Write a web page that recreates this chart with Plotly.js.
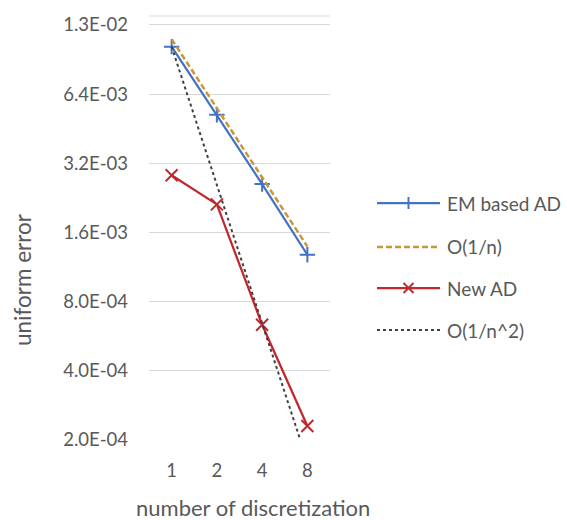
<!DOCTYPE html>
<html>
<head>
<meta charset="utf-8">
<script src="https://cdn.plot.ly/plotly-3.0.1.min.js"></script>
<style>html,body{margin:0;padding:0;background:#fff;}#chart{width:567px;height:520px;}</style>
</head>
<body>
<div id="chart"></div>
<script>
const categories = ['1', '2', '4', '8'];
const emBasedAD = [0.0103, 0.0052, 0.0026, 0.00128];
const orderN = [0.0111, 0.00555, 0.00278, 0.00139];
const newAD = [0.00284, 0.00212, 0.000635, 0.00023];
const orderN2 = [0.0103, 0.00258, 0.000644, 0.000161];
const yTickVals = [0.0002, 0.0004, 0.0008, 0.0016, 0.0032, 0.0064, 0.0128];
const yTickText = ['2.0E-04', '4.0E-04', '8.0E-04', '1.6E-03', '3.2E-03', '6.4E-03', '1.3E-02'];
const seriesNames = ['EM based AD', 'O(1/n)', 'New AD', 'O(1/n^2)'];
const xTitle = 'number of discretization';
const yTitle = 'uniform error';

const FONT = 'Lato, "Open Sans", sans-serif';
const GREY = '#595959';
const colors = ['#4472C4', '#C9973A', '#C0282E', '#404040'];

const traces = [
  {x: categories, y: emBasedAD, name: seriesNames[0], type: 'scatter', mode: 'lines+markers',
   line: {color: colors[0], width: 2.25},
   marker: {symbol: 'cross-thin-open', size: 11, line: {color: colors[0], width: 2}}},
  {x: categories, y: orderN, name: seriesNames[1], type: 'scatter', mode: 'lines',
   line: {color: colors[1], width: 2.5, dash: '6px,3px'}},
  {x: categories, y: newAD, name: seriesNames[2], type: 'scatter', mode: 'lines+markers',
   line: {color: colors[2], width: 2.25},
   marker: {symbol: 'x-thin-open', size: 12, line: {color: colors[2], width: 2}}},
  {x: categories, y: orderN2, name: seriesNames[3], type: 'scatter', mode: 'lines',
   line: {color: colors[3], width: 2, dash: 'dot'}}
];

const plotL = 149, plotR = 330, plotT = 16, plotB = 440;
const px2x = p => (p - plotL) / (plotR - plotL);
const py2y = p => (plotB - p) / (plotB - plotT);
const shapes = [];
const annotations = [];

// manual legend (Excel style, long samples)
const legendRowsPx = [203, 247, 288, 330];
const dashes = ['solid', '6px,3px', 'solid', 'dot'];
const widths = [2.25, 2.5, 2.25, 2];
legendRowsPx.forEach((py, i) => {
  shapes.push({type: 'line', xref: 'paper', yref: 'paper',
    x0: px2x(377), x1: px2x(440), y0: py2y(py), y1: py2y(py),
    line: {color: colors[i], width: widths[i], dash: dashes[i]}});
  annotations.push({xref: 'paper', yref: 'paper', x: px2x(445), y: py2y(py),
    xanchor: 'left', yanchor: 'middle', showarrow: false, text: seriesNames[i],
    font: {family: FONT, size: 19, color: GREY}});
});
const mx = px2x(408.5);
shapes.push({type: 'line', xref: 'paper', yref: 'paper', xsizemode: 'pixel', ysizemode: 'pixel',
  xanchor: mx, yanchor: py2y(203), x0: 0, x1: 0, y0: -6, y1: 6, line: {color: colors[0], width: 2}});
shapes.push({type: 'line', xref: 'paper', yref: 'paper', xsizemode: 'pixel', ysizemode: 'pixel',
  xanchor: mx, yanchor: py2y(288), x0: -5, x1: 5, y0: -5, y1: 5, line: {color: colors[2], width: 2}});
shapes.push({type: 'line', xref: 'paper', yref: 'paper', xsizemode: 'pixel', ysizemode: 'pixel',
  xanchor: mx, yanchor: py2y(288), x0: -5, x1: 5, y0: 5, y1: -5, line: {color: colors[2], width: 2}});
// top plot-area border line
shapes.push({type: 'line', xref: 'paper', yref: 'paper', x0: 0, x1: 1, y0: 1, y1: 1,
  line: {color: '#D9D9D9', width: 1}, layer: 'below'});

// axis titles (placed like the Excel original)
annotations.push({xref: 'paper', yref: 'paper', x: px2x(253), y: py2y(507),
  xanchor: 'center', yanchor: 'middle', showarrow: false, text: xTitle,
  font: {family: FONT, size: 22, color: GREY}});
annotations.push({xref: 'paper', yref: 'paper', x: px2x(22), y: py2y(280),
  xanchor: 'center', yanchor: 'middle', showarrow: false, text: yTitle, textangle: -90,
  font: {family: FONT, size: 22.5, color: GREY}});

const layout = {
  width: 567, height: 520,
  margin: {l: plotL, r: 567 - plotR, t: plotT, b: 520 - plotB, pad: 0},
  paper_bgcolor: '#ffffff', plot_bgcolor: '#ffffff',
  showlegend: false,
  font: {family: FONT, color: GREY},
  xaxis: {
    type: 'category', categoryorder: 'array', categoryarray: categories,
    range: [-0.5, 3.5], showgrid: false, zeroline: false, showline: false,
    ticks: '', ticklabelstandoff: 17,
    tickfont: {family: FONT, size: 18.5, color: GREY}
  },
  yaxis: {
    type: 'log', range: [Math.log10(0.0002), Math.log10(0.014)],
    tickvals: yTickVals, ticktext: yTickText,
    showgrid: true, gridcolor: '#D9D9D9', gridwidth: 1,
    zeroline: false, showline: false, ticks: '', ticklabelstandoff: 20,
    tickfont: {family: FONT, size: 18.5, color: GREY}
  },
  shapes: shapes,
  annotations: annotations
};

Plotly.newPlot('chart', traces, layout, {displayModeBar: false, staticPlot: true});
</script>
</body>
</html>
